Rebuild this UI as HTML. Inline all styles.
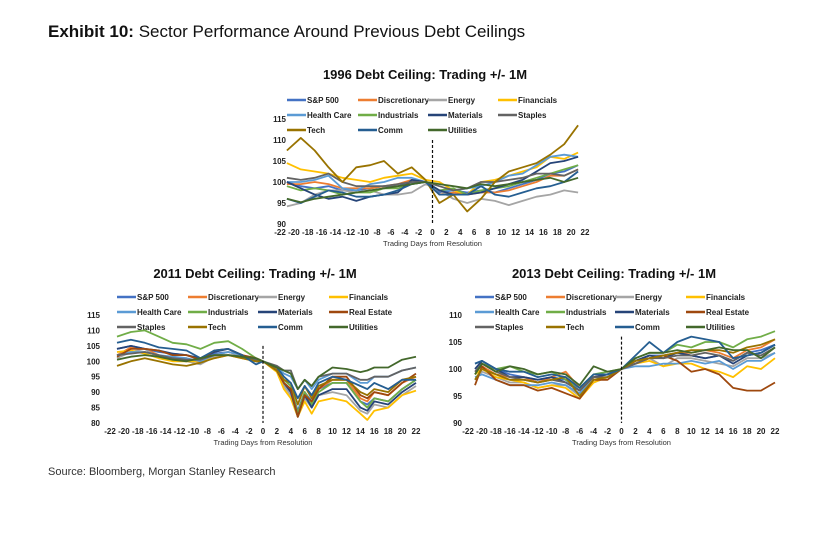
<!DOCTYPE html>
<html><head><meta charset="utf-8">
<style>
body{margin:0;background:#fff;}
svg{display:block;font-family:"Liberation Sans",Arial,sans-serif;}
</style></head>
<body>
<svg id="svg" width="816" height="534" viewBox="0 0 816 534" xmlns="http://www.w3.org/2000/svg">
<text x="48" y="37" font-size="17" fill="#111"><tspan font-weight="bold">Exhibit 10:</tspan>  Sector Performance Around Previous Debt Ceilings</text>
<text x="48" y="475" font-size="11" fill="#333">Source: Bloomberg, Morgan Stanley Research</text>
</svg>
<script>
// ---------- Chart 1: 1996 ----------
const c1Days=[-21,-19,-17,-15,-13,-11,-9,-7,-5,-3,-1,1,3,5,7,9,11,13,15,17,19,21];
const c1Sp500=[100,99,98.5,99,98,98,98.5,99,99,100,100,97.5,98,97.5,98,97.5,98.5,99.5,100.5,102,102.5,104];
const c1Discretionary=[99.5,99.5,100,99.5,98.5,98.5,98.5,99,99.5,100.5,100,97,97.5,97,97.5,97.5,98,99,100,101.5,101.5,103];
const c1Energy=[94.2,95,97,98,98,97.5,98,97,97,97.5,99.5,98,96,95,96,95.5,94.5,95.5,96.5,97,98,97.5];
const c1Financials=[104.5,103,102.5,102,101,100.5,100,101,101.5,102,100.5,100,98,97,100,100.5,101.5,102.5,103.5,106,105.5,107];
const c1HealthCare=[100,100,100.5,101.5,98.5,98,99.5,100,101,101,100,98,98,98.5,99,100,101.5,102,104,106,106.5,106];
const c1Industrials=[99,98,98.5,98,97,97.5,97.5,98.5,98.5,99.5,100,98,98.5,97,98,98.5,99,100,101,102,103,104];
const c1Materials=[100,98.5,97,96,96.5,95.5,96.5,97,97.5,100.5,100,98,97,97,97.5,98.5,99.5,100.5,102.5,104.5,105,106];
const c1Staples=[101,100.5,101,102,100,99,99,99,99.5,100,100,99,98,98.5,100,100,100.5,101,102,102,101.5,103];
const c1Tech=[107.5,110.5,107.5,103.5,100,103.5,104,105,102,103.5,100.5,95,97,93,96,100,102.5,103.5,104.5,106.5,109,113.5];
const c1Comm=[96,95,96.5,98,97.5,96.5,96.5,97,98,99.5,100,97,97,97,99,97,96.5,97.5,98.5,99,100,102.5];
const c1Utilities=[96,95.2,96,96.5,97,97.5,98,98.5,99,99.5,100,99.5,99,98.5,99.5,99,99.5,100,100.5,101,100,101];
const c1YTicks=[90,95,100,105,110,115];

// ---------- Chart 2: 2011 ----------
const c2Days=[-21,-19,-17,-15,-13,-11,-9,-7,-5,-3,-1,0,2,3,4,5,6,7,8,10,12,14,15,16,18,20,22];
const c2Sp500=[104,105,104,103,102.5,102,100.5,102.5,103,102,100,100,97.5,93,91,84,90,87,91,93,93,87,86,88,87,91,94];
const c2Discretionary=[102,104.5,104,102,101,101,99.5,102,103,102,100,100,97.5,93,91,83,90,86,91,94,94,88,87,90,89,93,95];
const c2Energy=[101,103,104,101,100.5,100,99,101.5,102,102,100,100,97,92,89,83,88,85,89,90,89,84,83,86,85,89,92];
const c2Financials=[103,103.5,102.5,101,100,100,100,101,102,101,100,100,96.5,91,88,82,87,83,87,88,87,83,81,84,85,89,90.5];
const c2HealthCare=[102,103,103,102,101.5,101,100,102,103,102,100,100,98,96,95,91,94,91,94,96,96,93,93,95,95,97,98];
const c2Industrials=[108,109.5,110,108,106,105.5,104,106,106.5,104,101,100,97,94,92,83,90,86,90,93,93,87,85,88,87,91,94];
const c2Materials=[104,105,104,103.5,102.5,102,101,103,104,102,100,100,97,93,90,82,89,85,89,91,91,85,84,87,86,90,93];
const c2RealEstate=[101.5,104,104,103.5,102,102,100.5,103.5,104,102,101,100,97,93,91,82,89,87,91,95,95,89,88,90,89,93,96];
const c2Staples=[102,102.5,103,102,101,100.5,100.5,102,102,101.5,100.5,100,98.5,97,97,91,94,92,95,96,96,94,94,95,95,97,98];
const c2Tech=[98.5,100,101,100,99,98.5,99.5,101,102,101,100,100,97,94,93,86,92,88,92,94,94,90,89,91,90,94,95];
const c2Comm=[106,107,106,104.5,104,103.5,101,103.5,104,102,99,100,98,95,93,88,92,89,93,95,94,92,91,93,91,94,94];
const c2Utilities=[100.5,101.5,102,101.5,100.5,100,101,102,102,101.5,101,100,98,97,96,91,94,92,95,98,97.5,96.5,97,98,98,100.5,101.5];
const c2YTicks=[80,85,90,95,100,105,110,115];

// ---------- Chart 3: 2013 ----------
const c3Days=[-21,-20,-18,-16,-14,-12,-10,-8,-6,-4,-2,0,2,4,6,8,10,12,14,16,18,20,22];
const c3Sp500=[101,101.5,100,99,98.5,98,98.5,98,96,98.5,99,100,101.5,102.5,102.5,103,102.5,102,102.5,101.5,103,103.5,104.5];
const c3Discretionary=[99.5,100.5,99,98.5,98.5,97.5,98.5,99.5,96.5,98.5,99,100,101.5,102,102.5,103,103,103.5,103,102,103.5,104,105.5];
const c3Energy=[98,99.5,98.5,97.5,97.5,96.5,97,97,95,97.5,98.5,100,101,102,100.5,102,102,101.5,101,100.5,102,102,103];
const c3Financials=[99,100,98.5,98,97.5,96.5,97,96.5,94.5,97.5,98.5,100,101,101.5,100.5,101,101,100,99.5,98.5,100.5,100,102];
const c3HealthCare=[98.5,99,98,97,97,97,97.5,97,95.5,98,98.5,100,100.5,100.5,101,101,101.5,101,101.5,100,101.5,101.5,103];
const c3Industrials=[99,101,100,100.5,99.5,99,99.5,98,96.5,99,99.5,100,102,103,103,104.5,104,105,105,104,105.5,106,107];
const c3Materials=[100,101.5,100,98.5,98.5,98,98.5,97.5,96,98.5,99,100,101.5,102.5,102,103,102.5,102,102.5,101,102.5,103,104.5];
const c3RealEstate=[97,100.5,98,97,97,96,96.5,95.5,94.5,98,98,100,101,102,102.5,101.5,99.5,100,99,96.5,96,96,97.5];
const c3Staples=[99.5,101,99.5,98.5,98,97.5,98,97.5,96,98.5,98.5,100,101,102,102,102.5,102.5,103,102.5,101.5,103,102.5,104];
const c3Tech=[98,100,99,98,98,97.5,98,98.5,95,98,98.5,100,101.5,102,102.5,103,103.5,103.5,103.5,103,104,104.5,105.5];
const c3Comm=[101,101.5,100,99.5,99.5,98.5,99,98.5,96.5,99,99,100,102.5,105,103,105,106,105.5,105,102,102.5,103,104.5];
const c3Utilities=[99,101,99.5,100.5,100,99,99.5,99,97,100.5,99.5,100,102,103,103,103.5,103,103.5,104,103.5,103.5,102,104];
const c3YTicks=[90,95,100,105,110];

const xTicks=[-22,-20,-18,-16,-14,-12,-10,-8,-6,-4,-2,0,2,4,6,8,10,12,14,16,18,20,22];

const COL={sp:'#4472C4',disc:'#ED7D31',en:'#A5A5A5',fin:'#FFC000',hc:'#5B9BD5',ind:'#70AD47',mat:'#264478',re:'#9E480E',st:'#636363',tech:'#997300',comm:'#255E91',util:'#43682B'};
const NS='http://www.w3.org/2000/svg';
const svg=document.getElementById('svg');
function mk(tag,attrs,parent){const e=document.createElementNS(NS,tag);for(const k in attrs)e.setAttribute(k,attrs[k]);(parent||svg).appendChild(e);return e;}

function drawChart(cfg){
  const g=mk('g',{});
  
  
  const xs=d=>cfg.x0+(d+22)/44*(cfg.x1-cfg.x0);
  const ys=v=>cfg.yb+(v-cfg.ymin)/(cfg.ymax-cfg.ymin)*(cfg.yt-cfg.yb);
  const t=mk('text',{x:cfg.tx,y:cfg.ty,'font-size':13,'font-weight':'bold','text-anchor':'middle',fill:'#111'},g);
  t.textContent=cfg.title;
  
  
  cfg.series.forEach((s,i)=>{
    const col=i%4,row=Math.floor(i/4);
    const lx=cfg.legX[col],ly=cfg.legY[row];
    const le=mk('g',{},g);
    
    
    mk('line',{x1:lx,y1:ly,x2:lx+19,y2:ly,stroke:s.c,'stroke-width':2.5},le);
    const tt=mk('text',{x:lx+20,y:ly+3,'font-size':8,'font-weight':'bold',fill:'#222'},le);
    tt.textContent=s.n;
  });
  cfg.yTicks.forEach(v=>{
    const tt=mk('text',{x:cfg.ylx,y:ys(v)+3,'font-size':8,'font-weight':'bold','text-anchor':'end',fill:'#222'},g);
    tt.textContent=v;
    
    
  });
  xTicks.forEach(d=>{
    const tt=mk('text',{x:xs(d),y:cfg.yb+11,'font-size':8,'font-weight':'bold','text-anchor':'middle',fill:'#222'},g);
    tt.textContent=d;
    
    
  });
  const xt=mk('text',{x:(cfg.x0+cfg.x1)/2,y:cfg.yb+22,'font-size':7.5,'text-anchor':'middle',fill:'#333'},g);
  xt.textContent='Trading Days from Resolution';
  
  
  cfg.series.forEach(s=>{
    const p=mk('polyline',{points:cfg.days.map((d,i)=>xs(d).toFixed(1)+','+ys(s.v[i]).toFixed(1)).join(' '),fill:'none',stroke:s.c,'stroke-width':1.8,'stroke-linejoin':'round'},g);
    
    
  });
  const dl=mk('line',{x1:xs(0),x2:xs(0),y1:ys(cfg.dashTop),y2:cfg.yb,stroke:'#111','stroke-width':1.2,'stroke-dasharray':'3,2'},g);
  
  
}

drawChart({id:'chart-1996',title:'1996 Debt Ceiling: Trading +/- 1M',tx:425,ty:79,x0:280,x1:585,yt:119,yb:224,ymin:90,ymax:115,ylx:286,dashTop:110,
  legX:[287,358,428,498],legY:[100,115,130],days:c1Days,yTicks:c1YTicks,
  series:[{n:'S&P 500',c:COL.sp,v:c1Sp500},{n:'Discretionary',c:COL.disc,v:c1Discretionary},{n:'Energy',c:COL.en,v:c1Energy},{n:'Financials',c:COL.fin,v:c1Financials},
  {n:'Health Care',c:COL.hc,v:c1HealthCare},{n:'Industrials',c:COL.ind,v:c1Industrials},{n:'Materials',c:COL.mat,v:c1Materials},{n:'Staples',c:COL.st,v:c1Staples},
  {n:'Tech',c:COL.tech,v:c1Tech},{n:'Comm',c:COL.comm,v:c1Comm},{n:'Utilities',c:COL.util,v:c1Utilities}]});

drawChart({id:'chart-2011',title:'2011 Debt Ceiling: Trading +/- 1M',tx:255,ty:278,x0:110,x1:416,yt:315,yb:423,ymin:80,ymax:115,ylx:100,dashTop:105,
  legX:[117,188,258,329],legY:[297,312,327],days:c2Days,yTicks:c2YTicks,
  series:[{n:'S&P 500',c:COL.sp,v:c2Sp500},{n:'Discretionary',c:COL.disc,v:c2Discretionary},{n:'Energy',c:COL.en,v:c2Energy},{n:'Financials',c:COL.fin,v:c2Financials},
  {n:'Health Care',c:COL.hc,v:c2HealthCare},{n:'Industrials',c:COL.ind,v:c2Industrials},{n:'Materials',c:COL.mat,v:c2Materials},{n:'Real Estate',c:COL.re,v:c2RealEstate},
  {n:'Staples',c:COL.st,v:c2Staples},{n:'Tech',c:COL.tech,v:c2Tech},{n:'Comm',c:COL.comm,v:c2Comm},{n:'Utilities',c:COL.util,v:c2Utilities}]});

drawChart({id:'chart-2013',title:'2013 Debt Ceiling: Trading +/- 1M',tx:614,ty:278,x0:468,x1:775,yt:315,yb:423,ymin:90,ymax:110,ylx:462,dashTop:106,
  legX:[475,546,615,686],legY:[297,312,327],days:c3Days,yTicks:c3YTicks,
  series:[{n:'S&P 500',c:COL.sp,v:c3Sp500},{n:'Discretionary',c:COL.disc,v:c3Discretionary},{n:'Energy',c:COL.en,v:c3Energy},{n:'Financials',c:COL.fin,v:c3Financials},
  {n:'Health Care',c:COL.hc,v:c3HealthCare},{n:'Industrials',c:COL.ind,v:c3Industrials},{n:'Materials',c:COL.mat,v:c3Materials},{n:'Real Estate',c:COL.re,v:c3RealEstate},
  {n:'Staples',c:COL.st,v:c3Staples},{n:'Tech',c:COL.tech,v:c3Tech},{n:'Comm',c:COL.comm,v:c3Comm},{n:'Utilities',c:COL.util,v:c3Utilities}]});
</script>
</body></html>
